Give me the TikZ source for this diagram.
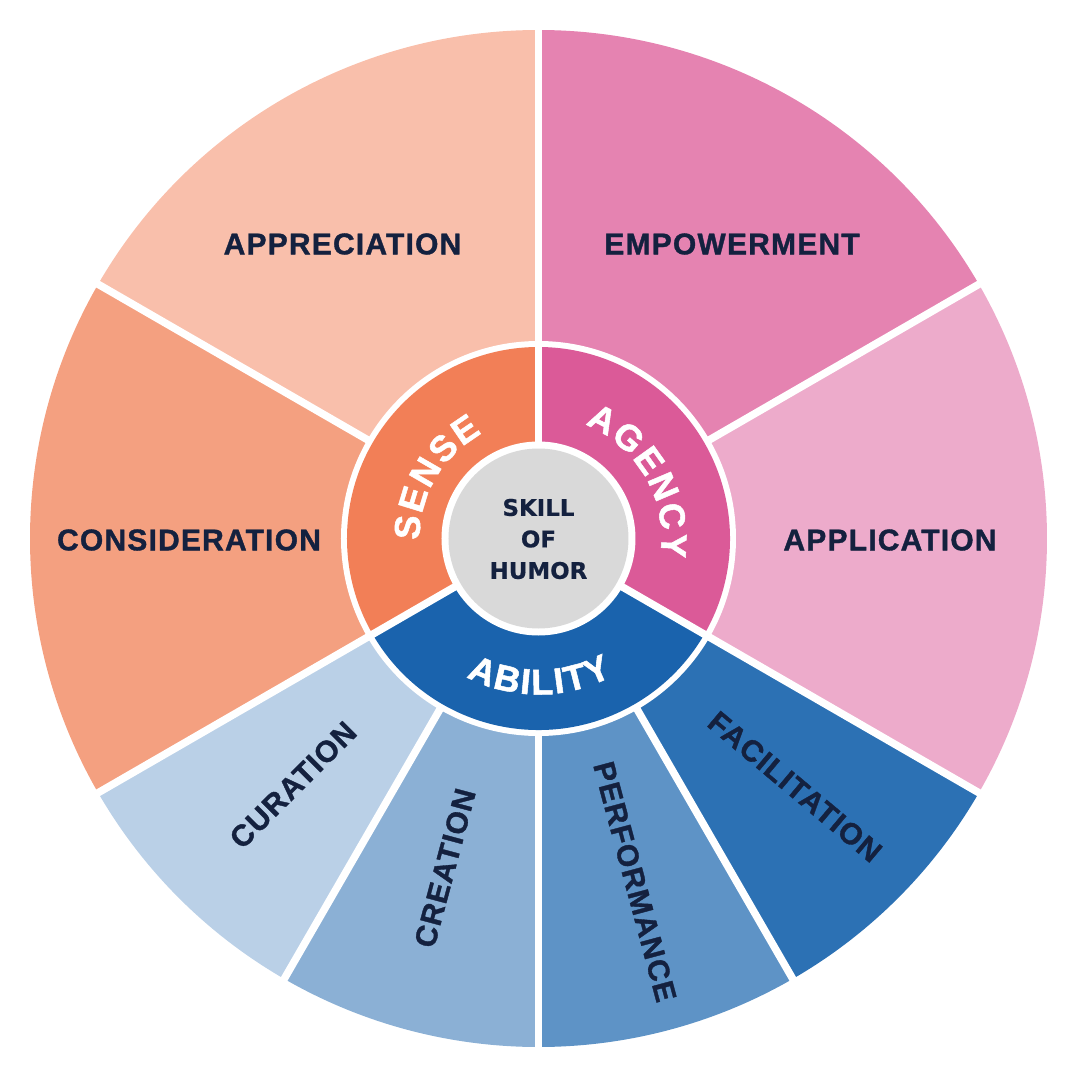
\documentclass[tikz,border=0pt]{standalone}
\usepackage{fontspec}
\usetikzlibrary{decorations.text}
\newfontfamily\olabfam{Liberation Sans}[LetterSpace=4, BoldFeatures={FakeBold=1.2}]
\newfontfamily\rlabfam{Liberation Sans}[BoldFeatures={FakeBold=1.4}]
\newfontfamily\clabfam{DejaVu Sans}[BoldFeatures={FakeBold=0.6}]
\newcommand\olabfont{\olabfam\bfseries\fontsize{30}{32}\selectfont}
\newcommand\rlabfont{\rlabfam\bfseries\fontsize{36}{38}\selectfont\kern2pt}
\newcommand\clabfont{\clabfam\bfseries\fontsize{22.9}{31.5}\selectfont}
\definecolor{cAppr}{HTML}{F9BFAB}
\definecolor{cCons}{HTML}{F4A080}
\definecolor{cSense}{HTML}{F27F57}
\definecolor{cEmp}{HTML}{E583B1}
\definecolor{cAppl}{HTML}{EDABCB}
\definecolor{cAgen}{HTML}{DB5A98}
\definecolor{cAbil}{HTML}{1A63AD}
\definecolor{cCur}{HTML}{BAD0E7}
\definecolor{cCre}{HTML}{8BB0D5}
\definecolor{cPerf}{HTML}{5E93C6}
\definecolor{cFac}{HTML}{2C71B4}
\definecolor{cCtr}{HTML}{D9D9D9}
\definecolor{navy}{HTML}{14213F}
\begin{document}
\begin{tikzpicture}[x=1pt,y=1pt,
  sepline/.style={white, line width=7.5pt},
  olab/.style={text=navy, font=\olabfont, inner sep=0pt},
  ringtext/.style={decorate, decoration={text along path, text={|\rlabfont|#1}, text align=center, text color=white}}
]
\useasboundingbox (-538.5,-541.5) rectangle (541.5,538.5);
% outer ring sectors
\foreach \a/\b/\c in {90/150/cAppr, 150/210/cCons, 210/240/cCur, 240/270/cCre, 270/300/cPerf, 300/330/cFac, -30/30/cAppl, 30/90/cEmp}
  \fill[\c] (0,0) -- (\a:508.5) arc[start angle=\a, end angle=\b, radius=508.5] -- cycle;
\fill[white] (0,0) circle[radius=197.5];
% middle ring sectors
\foreach \a/\b/\c in {90/210/cSense, 210/330/cAbil, -30/90/cAgen}
  \fill[\c] (0,0) -- (\a:191.5) arc[start angle=\a, end angle=\b, radius=191.5] -- cycle;
\fill[white] (0,0) circle[radius=97];
% separators
\foreach \a in {150,240,270,300,30}
  \draw[sepline] (\a:194) -- (\a:516);
\foreach \a in {90,210,330}
  \draw[sepline] (\a:94) -- (\a:516);
% centre
\node[circle, fill=cCtr, minimum size=180pt, inner sep=0pt] (core) at (0,0) {};
\node[text=navy, font=\clabfont, align=center, inner sep=0pt] (coretext) at (0,-0.5) {SKILL\\OF\\HUMOR};
% ring labels
\path[ringtext=SENSE] (210:119) arc[start angle=210, end angle=90, radius=119];
\path[ringtext=AGENCY] (90:123) arc[start angle=90, end angle=-30, radius=123];
\path[ringtext=ABILITY] (210:156) arc[start angle=210, end angle=330, radius=156];
% outer labels
\node[olab] (appr) at (-196,294.5) {APPRECIATION};
\node[olab] (emp) at (193.5,294.5) {EMPOWERMENT};
\node[olab] (cons) at (-349.5,-1.5) {CONSIDERATION};
\node[olab] (appl) at (351.5,-1.5) {APPLICATION};
\node[olab, rotate=45] (cur) at (-245.5,-246.5) {CURATION};
\node[olab, rotate=75] (cre) at (-93.5,-329.5) {CREATION};
\node[olab, rotate=-75] (perf) at (96.5,-343.2) {PERFORMANCE};
\node[olab, rotate=-40] (fac) at (256.5,-248.2) {FACILITATION};
\end{tikzpicture}
\end{document}
